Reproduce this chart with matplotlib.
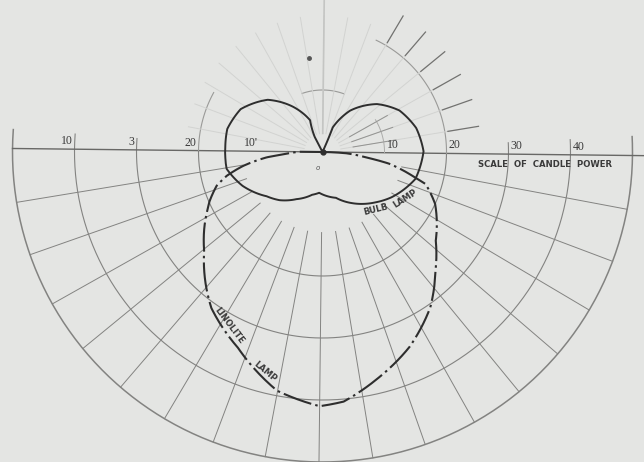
import numpy as np
import matplotlib
matplotlib.use("Agg")
import matplotlib.pyplot as plt

# polar candle power curves: angle in degrees (0 = right, negative = below), candle power
bulb_angle = [66, 68, 57, 42, 29, 15, 1, -15.5, -32.7, -42.8, -59.5, -73, -94, -103,
              -118.4, -131, -141, -156.4, -169.4, -182.3, -193, -207, -223, -236.3,
              -248, -242, -242]
bulb_cp = [0, 4.3, 8.0, 11.7, 14.1, 15.6, 16.3, 15.6, 13.3, 11.8, 9.5, 7.7, 6.6, 7.1,
           8.7, 10.4, 11.5, 14.0, 15.7, 15.7, 15.8, 14.9, 12.2, 8.7,
           5.5, 2.7, 0]

linolite_angle = [0, -2.4, -6.5, -9.3, -14.9, -16.6, -24.1, -37.4, -45.7, -54.6, -65.2,
                  -76, -84.5, -90, -100.1, -112.7, -124.8, -130.7, -139.4, -146.5,
                  -153.2, -155.7, -161.7, -165.4, -169.4, -173.9, -175.7, -180, -180]
linolite_cp = [0, 3.85, 7.1, 10.9, 15.6, 17.4, 20.0, 23.2, 26.4, 30.5, 34.4,
               37.7, 40.4, 41.0, 39.2, 34.4, 30.9, 28.5, 24.9, 22.7,
               20.6, 19.9, 17.9, 15.9, 13.0, 9.0, 6.4, 3.7, 0]

scale_rings = [10, 20, 30, 40, 50]
right_labels = ["10", "20", "30", "40"]
left_labels = ["10'", "20", "3", "10"]
marker_point = [99, 15.3]

bg = "#e4e5e3"
grid_c = "#838381"
ink = "#2e2e2e"

plt.rcParams['font.family'] = ['DejaVu Sans']


def d(a):
    return np.deg2rad(a)


def smooth(line, steps=30):
    # let the polar transform bend the segments between points
    line._path._interpolation_steps = steps
    return line


fig = plt.figure(figsize=(6.44, 4.62), dpi=100, facecolor=bg)
R = 54
ppc = 6.2
size = 2 * R * ppc
cx, cy = 322.5, 462 - 152
ax = fig.add_axes([(cx - size / 2) / 644, (cy - size / 2) / 462, size / 644, size / 462],
                  projection='polar')
ax.set_ylim(0, R)
ax.set_theta_offset(d(-0.65))
ax.set_axis_off()

# lower half: rings and spokes
for ring in scale_rings[1:]:
    ext = 3.5 if ring >= 30 else 0
    th = d(np.linspace(180 - ext, 360 + ext, 300))
    ax.plot(th, np.full_like(th, ring), color=grid_c, lw=0.8 if ring < 50 else 1.1)
for a in range(190, 360, 10):
    ax.plot([d(a), d(a)], [13, 50], color=grid_c, lw=0.7)

# horizontal axis
ax.plot([d(180), d(180)], [0, 50], color="#686866", lw=1.0)
ax.plot([d(0), d(0)], [0, 54], color="#686866", lw=1.0)

# upper half: partial rings and faint spokes
th = d(np.linspace(0, 65, 80))
ax.plot(th, np.full_like(th, 20), color="#9a9a98", lw=0.8)
th = d(np.linspace(152, 180, 40))
ax.plot(th, np.full_like(th, 20), color="#9a9a98", lw=0.8)
th = d(np.linspace(70, 110, 40))
ax.plot(th, np.full_like(th, 10), color="#9a9a98", lw=0.8)
th = d(np.linspace(0, 32, 40))
ax.plot(th, np.full_like(th, 10), color="#acacaa", lw=0.7)
for a in range(10, 180, 10):
    ax.plot([d(a), d(a)], [3, 22], color="#d2d3d1", lw=0.7)
ax.plot([d(90), d(90)], [3, 24.5], color="#c4c5c3", lw=1.2)
for a in range(10, 70, 10):
    ax.plot([d(a), d(a)], [20.5, 25.5], color="#727270", lw=0.9)
for a in range(10, 40, 10):
    ax.plot([d(a), d(a)], [5, 12], color="#939391", lw=0.7)
ax.plot(d(marker_point[0]), marker_point[1], 'o', color="#555", ms=2.5)

# curves
smooth(ax.plot(d(np.array(bulb_angle)), bulb_cp, color=ink, lw=1.4,
               solid_joinstyle='round')[0])
smooth(ax.plot(d(np.array(linolite_angle)), linolite_cp, color=ink, lw=1.5,
               linestyle=(0, (14, 2, 1.2, 2)))[0])
ax.plot(0, 0, 'o', color=ink, ms=3.5)

# scale labels
num_font = dict(family='Liberation Serif', fontsize=8.5, color="#3a3a3a")
for v, s in zip(scale_rings, right_labels):
    ax.annotate(s, xy=(d(0), v), xytext=(1.5, 1.5), textcoords='offset points',
                ha='left', va='bottom', **num_font)
for v, s in zip(scale_rings, left_labels):
    ax.annotate(s, xy=(d(180), v), xytext=(-1.5, 1.5), textcoords='offset points',
                ha='right', va='bottom', **num_font)

lab = dict(fontsize=6.1, color="#3a3a3a", fontweight='bold')
ax.annotate("SCALE  OF  CANDLE  POWER", xy=(d(0), 35.9), xytext=(0, -7.5),
            textcoords='offset points', ha='center', va='center', **lab)
ax.text(d(-46.8), 12.6, "BULB", rotation=14, ha='center', va='center', **lab)
ax.text(d(-28.6), 15.3, "LAMP", rotation=33, ha='center', va='center', **lab)
ax.text(d(-117.6), 31.8, "LINOLITE", rotation=-53, ha='center', va='center', **lab)
ax.text(d(-104), 36.6, "LAMP", rotation=-40, ha='center', va='center', **lab)
ax.annotate("o", xy=(0, 0), xytext=(-3.6, -11.5), textcoords='offset points',
            ha='center', va='center', fontsize=5, style='italic', color="#555")

fig.savefig("out.png", dpi=100, facecolor=bg)
